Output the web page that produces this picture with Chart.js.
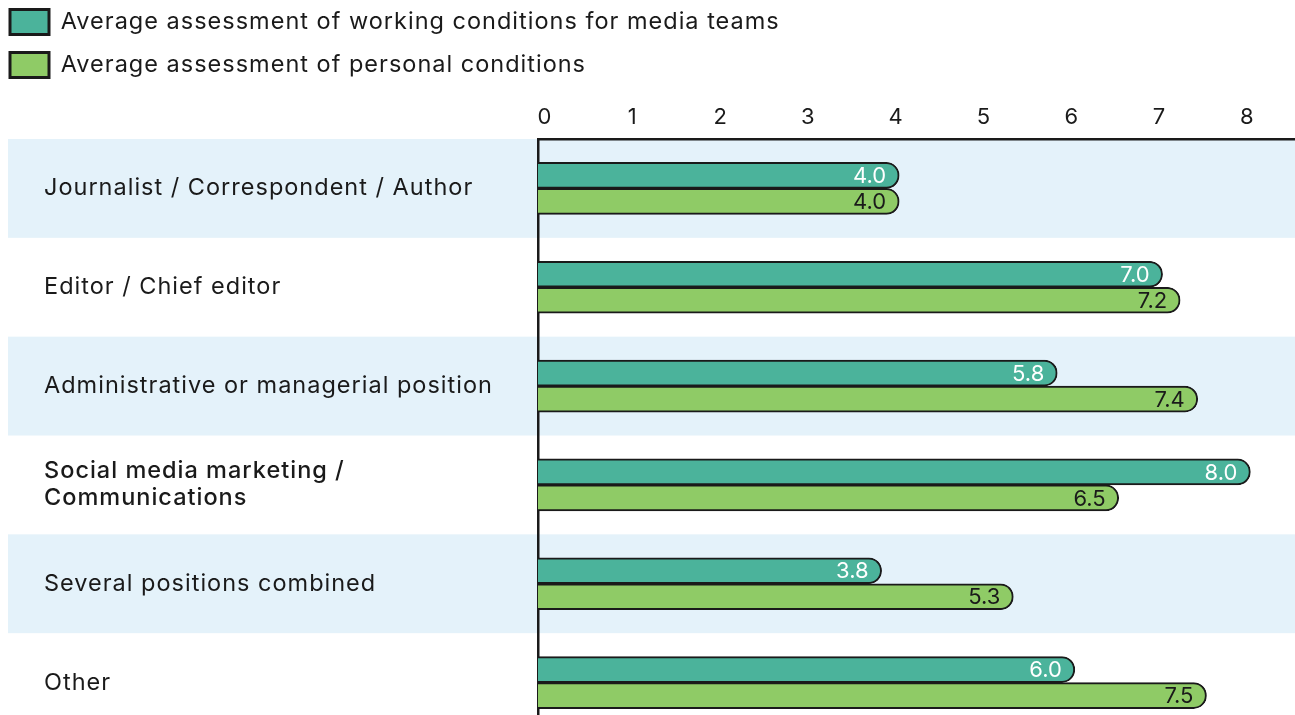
<!DOCTYPE html>
<html><head><meta charset="utf-8">
<script src="https://cdn.jsdelivr.net/npm/chart.js@4.4.1/dist/chart.umd.min.js"></script>
<style>
html,body{margin:0;padding:0;background:#fff;overflow:hidden;}
canvas{display:block;}
</style></head><body>
<canvas id="c" width="1295" height="732"></canvas>
<script>
const categories = [
  'Journalist / Correspondent / Author',
  'Editor / Chief editor',
  'Administrative or managerial position',
  ['Social media marketing /', 'Communications'],
  'Several positions combined',
  'Other'
];
const seriesNames = [
  'Average assessment of working conditions for media teams',
  'Average assessment of personal conditions'
];
const workingConditions = [4.0, 7.0, 5.8, 8.0, 3.8, 6.0];
const personalConditions = [4.0, 7.2, 7.4, 6.5, 5.3, 7.5];
const tickValues = [0, 1, 2, 3, 4, 5, 6, 7, 8];

const X_MIN = -0.114, X_MAX = 8.508;
const TEAL = '#4bb39b', GREEN = '#8fcb66', INK = '#1a1a1a', BAND = '#e4f2fa';
const FONT = 'Inter, "Noto Sans", sans-serif';
const SPACING = '1px';

const spacingPlugin = {
  id: 'spacing',
  beforeLayout(chart) { chart.ctx.letterSpacing = SPACING; },
  beforeDraw(chart) { chart.ctx.letterSpacing = SPACING; }
};

const bandsPlugin = {
  id: 'bands',
  beforeDraw(chart) {
    const {ctx, chartArea, scales: {y}} = chart;
    const half = (y.getPixelForValue(1) - y.getPixelForValue(0)) / 2;
    ctx.save();
    ctx.fillStyle = BAND;
    for (let i = 0; i < categories.length; i += 2) {
      const c = y.getPixelForValue(i);
      const top = Math.max(c - half, chartArea.top);
      ctx.fillRect(8, top, chart.width - 8, c + half - top);
    }
    ctx.restore();
  }
};

const valueLabels = {
  id: 'valueLabels',
  afterDatasetsDraw(chart) {
    const ctx = chart.ctx;
    ctx.save();
    ctx.letterSpacing = '0px';
    ctx.font = '22px ' + FONT;
    ctx.textAlign = 'right';
    ctx.textBaseline = 'middle';
    chart.data.datasets.forEach((ds, di) => {
      const meta = chart.getDatasetMeta(di);
      meta.data.forEach((bar, i) => {
        ctx.fillStyle = di === 0 ? '#ffffff' : INK;
        ctx.fillText(ds.data[i].toFixed(1), bar.x - 13, bar.y + 1);
      });
    });
    ctx.restore();
  }
};

const legendShift = {
  id: 'legendShift',
  afterLayout(chart) { if (chart.legend) chart.legend.left = -8; }
};

const barStyle = {
  borderColor: INK, borderWidth: 2, borderSkipped: 'start',
  borderRadius: {topRight: 13, bottomRight: 13, topLeft: 0, bottomLeft: 0},
  barThickness: 26, base: X_MIN
};

new Chart(document.getElementById('c'), {
  type: 'bar',
  data: {
    labels: categories,
    datasets: [
      Object.assign({label: seriesNames[0], data: workingConditions, backgroundColor: TEAL}, barStyle),
      Object.assign({label: seriesNames[1], data: personalConditions, backgroundColor: GREEN}, barStyle)
    ]
  },
  options: {
    indexAxis: 'y',
    responsive: false,
    maintainAspectRatio: false,
    devicePixelRatio: 1,
    animation: false,
    events: [],
    layout: {padding: {top: -8.5, left: 44, right: 0, bottom: 0}},
    plugins: {
      legend: {
        position: 'top', align: 'start',
        labels: {
          boxWidth: 39, boxHeight: 25, padding: 18, color: INK,
          font: {family: FONT, size: 23.5},
          generateLabels(chart) {
            const items = Chart.defaults.plugins.legend.labels.generateLabels(chart);
            items.forEach(it => { it.lineWidth = 3; it.strokeStyle = INK; });
            return items;
          }
        }
      },
      tooltip: {enabled: false}
    },
    scales: {
      x: {
        position: 'top', min: X_MIN, max: X_MAX,
        grid: {display: false, drawTicks: false},
        border: {display: true, color: INK, width: 2.5},
        ticks: {color: INK, font: {family: FONT, size: 22}, padding: 8, labelOffset: -3, autoSkip: false, maxRotation: 0},
        afterBuildTicks(s) { s.ticks = tickValues.map(v => ({value: v})); },
        afterFit(s) { s.height = 51.5; }
      },
      y: {
        z: 1,
        grid: {display: false, drawTicks: false},
        border: {display: true, color: INK, width: 2.5},
        ticks: {
          crossAlign: 'far', color: INK, autoSkip: false,
          font: (ctx) => ({family: FONT, size: 23.5, lineHeight: 1.15, weight: ctx.index === 3 ? '500' : '400'})
        },
        afterFit(s) { s.width = 494; s.paddingTop = 0; s.paddingBottom = 0; }
      }
    }
  },
  plugins: [spacingPlugin, bandsPlugin, valueLabels, legendShift]
});
</script>
</body></html>
